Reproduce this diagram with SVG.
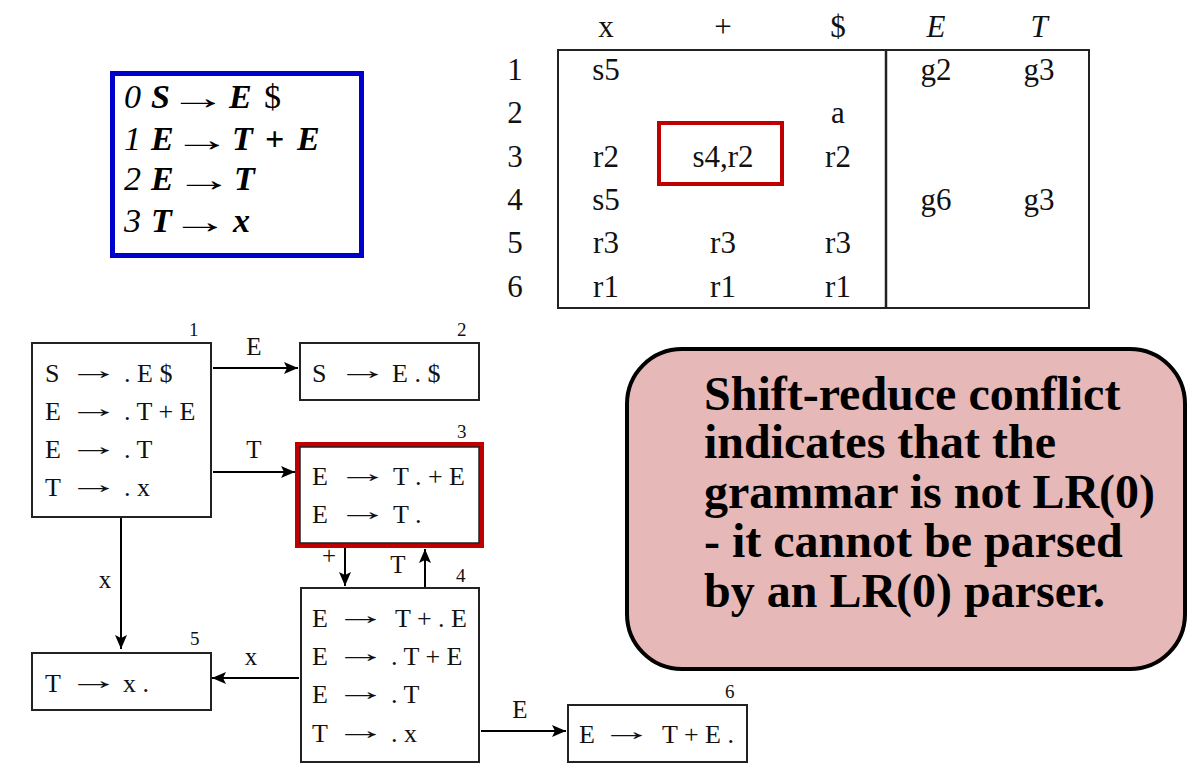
<svg xmlns="http://www.w3.org/2000/svg" width="1193" height="775" viewBox="0 0 1193 775" font-family="Liberation Serif, serif">
<defs>
<marker id="ah" viewBox="0 0 14 12" refX="14" refY="6" markerWidth="14" markerHeight="12" markerUnits="userSpaceOnUse" orient="auto">
<path d="M0,0 L14,6 L0,12 L3,6 Z" fill="#000"/>
</marker>
</defs>
<style>
.g{font-size:34px;fill:#000}
.gb{font-weight:bold;font-style:italic}
.gi{font-style:italic}
.ga{font-size:34px;fill:#000}
.tb{font-size:31px;fill:#111;text-anchor:middle}
.it{font-size:26px;fill:#111}
.ar{font-size:26px;fill:#111}
.num{font-size:19px;fill:#111}
.lbl{font-size:25px;fill:#111;text-anchor:middle}
.box{fill:#fff;stroke:#222;stroke-width:2}
.edge{fill:none;stroke:#000;stroke-width:2;marker-end:url(#ah)}
.note{font-size:48px;font-weight:bold;fill:#000}
</style>
<rect width="1193" height="775" fill="#fff"/>

<g id="grammar">
<rect x="112.5" y="73.5" width="249" height="182" fill="#fff" stroke="#0000cc" stroke-width="5"/>
<text class="g" y="108"><tspan x="124" class="gi">0</tspan><tspan x="151" class="gb">S</tspan><tspan x="229" class="gb">E</tspan><tspan x="264">$</tspan></text>
<text class="g" y="150"><tspan x="124" class="gi">1</tspan><tspan x="151" class="gb">E</tspan><tspan x="232" class="gb">T</tspan><tspan x="265" font-weight="bold">+</tspan><tspan x="297" class="gb">E</tspan></text>
<text class="g" y="190"><tspan x="124" class="gi">2</tspan><tspan x="151" class="gb">E</tspan><tspan x="234" class="gb">T</tspan></text>
<text class="g" y="232"><tspan x="124" class="gi">3</tspan><tspan x="151" class="gb">T</tspan><tspan x="233" class="gb">x</tspan></text>
<text class="ga" transform="translate(169,109) scale(1.7,1)">→</text>
<text class="ga" transform="translate(173,151) scale(1.7,1)">→</text>
<text class="ga" transform="translate(175,191) scale(1.7,1)">→</text>
<text class="ga" transform="translate(171,233) scale(1.7,1)">→</text>
</g>

<g id="table">
<text class="tb" y="37"><tspan x="606">x</tspan><tspan x="723">+</tspan><tspan x="838">$</tspan><tspan x="936" font-style="italic">E</tspan><tspan x="1039" font-style="italic">T</tspan></text>
<rect x="558" y="50" width="531" height="258" fill="none" stroke="#222" stroke-width="2"/>
<line x1="886" y1="50" x2="886" y2="308" stroke="#222" stroke-width="2.5"/>
<text class="tb" x="515" y="80">1</text>
<text class="tb" x="515" y="123">2</text>
<text class="tb" x="515" y="167">3</text>
<text class="tb" x="515" y="210">4</text>
<text class="tb" x="515" y="253">5</text>
<text class="tb" x="515" y="297">6</text>
<text class="tb" y="80"><tspan x="606">s5</tspan><tspan x="936">g2</tspan><tspan x="1039">g3</tspan></text>
<text class="tb" y="123"><tspan x="838">a</tspan></text>
<text class="tb" y="167"><tspan x="606">r2</tspan><tspan x="723">s4,r2</tspan><tspan x="838">r2</tspan></text>
<text class="tb" y="210"><tspan x="606">s5</tspan><tspan x="936">g6</tspan><tspan x="1039">g3</tspan></text>
<text class="tb" y="253"><tspan x="606">r3</tspan><tspan x="723">r3</tspan><tspan x="838">r3</tspan></text>
<text class="tb" y="297"><tspan x="606">r1</tspan><tspan x="723">r1</tspan><tspan x="838">r1</tspan></text>
<rect x="659" y="123" width="123" height="61" fill="none" stroke="#c00000" stroke-width="4"/>
</g>

<g id="connectors">
<line class="edge" x1="213" y1="368" x2="298" y2="368"/>
<text class="lbl" x="254" y="355">E</text>
<line class="edge" x1="213" y1="472" x2="295" y2="472"/>
<text class="lbl" x="254" y="458">T</text>
<line class="edge" x1="121" y1="518" x2="121" y2="649"/>
<text class="lbl" x="105" y="588">x</text>
<line class="edge" x1="345" y1="548" x2="345" y2="586"/>
<text class="lbl" x="329" y="564">+</text>
<line class="edge" x1="425" y1="587" x2="425" y2="549"/>
<text class="lbl" x="398" y="573">T</text>
<line class="edge" x1="299" y1="678" x2="212" y2="678"/>
<text class="lbl" x="251" y="665">x</text>
<line class="edge" x1="481" y1="731" x2="566" y2="731"/>
<text class="lbl" x="520" y="718">E</text>
</g>

<g id="state1">
<rect class="box" x="32" y="343" width="179" height="174"/>
<text class="num" x="189" y="336">1</text>
<text class="it" y="382"><tspan x="45">S</tspan><tspan x="124">. E $</tspan></text>
<text class="it" y="420"><tspan x="45">E</tspan><tspan x="124">. T + E</tspan></text>
<text class="it" y="458"><tspan x="45">E</tspan><tspan x="124">. T</tspan></text>
<text class="it" y="496"><tspan x="45">T</tspan><tspan x="124">. x</tspan></text>
<text class="ar" transform="translate(68,379) scale(2,1)">→</text>
<text class="ar" transform="translate(68,417) scale(2,1)">→</text>
<text class="ar" transform="translate(68,455) scale(2,1)">→</text>
<text class="ar" transform="translate(68,493) scale(2,1)">→</text>
</g>

<g id="state2">
<rect class="box" x="300" y="343" width="179" height="57"/>
<text class="num" x="457" y="336">2</text>
<text class="it" y="382"><tspan x="312">S</tspan><tspan x="392">E . $</tspan></text>
<text class="ar" transform="translate(337,379) scale(2,1)">→</text>
</g>

<g id="state3">
<rect x="297.5" y="444.5" width="184" height="101" fill="none" stroke="#c00000" stroke-width="5"/>
<rect x="300" y="447" width="179" height="96" fill="#fff" stroke="#222" stroke-width="1.5"/>
<text class="num" x="457" y="438">3</text>
<text class="it" y="485"><tspan x="312">E</tspan><tspan x="393">T . + E</tspan></text>
<text class="it" y="523"><tspan x="312">E</tspan><tspan x="393">T .</tspan></text>
<text class="ar" transform="translate(337,482) scale(2,1)">→</text>
<text class="ar" transform="translate(337,520) scale(2,1)">→</text>
</g>

<g id="state4">
<rect class="box" x="301" y="588" width="178" height="174"/>
<text class="num" x="456" y="582">4</text>
<text class="it" y="627"><tspan x="312">E</tspan><tspan x="395">T + . E</tspan></text>
<text class="it" y="665"><tspan x="312">E</tspan><tspan x="391">. T + E</tspan></text>
<text class="it" y="703"><tspan x="312">E</tspan><tspan x="391">. T</tspan></text>
<text class="it" y="742"><tspan x="312">T</tspan><tspan x="391">. x</tspan></text>
<text class="ar" transform="translate(335,624) scale(2,1)">→</text>
<text class="ar" transform="translate(335,662) scale(2,1)">→</text>
<text class="ar" transform="translate(335,700) scale(2,1)">→</text>
<text class="ar" transform="translate(335,739) scale(2,1)">→</text>
</g>

<g id="state5">
<rect class="box" x="32" y="653" width="179" height="57"/>
<text class="num" x="190" y="645">5</text>
<text class="it" y="692"><tspan x="45">T</tspan><tspan x="123">x .</tspan></text>
<text class="ar" transform="translate(68,689) scale(2,1)">→</text>
</g>

<g id="state6">
<rect class="box" x="568" y="705" width="179" height="57"/>
<text class="num" x="725" y="698">6</text>
<text class="it" y="743"><tspan x="579">E</tspan><tspan x="662">T + E .</tspan></text>
<text class="ar" transform="translate(601,740) scale(2,1)">→</text>
</g>

<g id="note">
<rect x="627" y="349" width="558" height="320" rx="55" ry="55" fill="#e6b8b7" stroke="#000" stroke-width="4"/>
<text class="note" x="704" y="410">Shift-reduce conflict</text>
<text class="note" x="704" y="458">indicates that the</text>
<text class="note" x="704" y="508">grammar is not LR(0)</text>
<text class="note" x="704" y="557">- it cannot be parsed</text>
<text class="note" x="704" y="607">by an LR(0) parser.</text>
</g>
</svg>
